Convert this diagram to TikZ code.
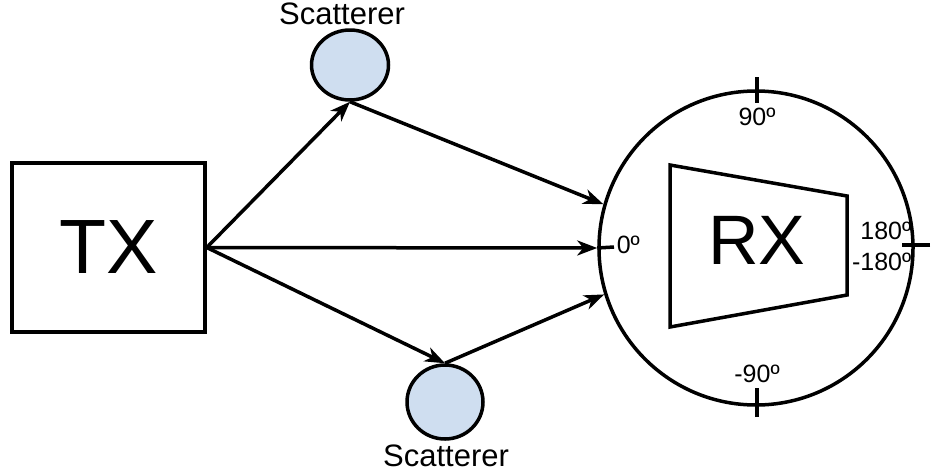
\documentclass[tikz,border=0pt]{standalone}
\usepackage{fontspec}
\setmainfont{Liberation Sans}
\usetikzlibrary{arrows.meta,shapes.geometric,positioning}
\definecolor{scatblue}{RGB}{207,222,240}

\begin{document}
\begin{tikzpicture}[x=1pt, y=-1pt, line width=3.5pt, >={Stealth[length=20pt,width=15pt,inset=6pt]},
                      box node/.style={rectangle,draw,minimum width=193pt,minimum height=169pt,font=\fontsize{77}{77}\selectfont},
                      scat node/.style={ellipse,draw,fill=scatblue,inner sep=0pt},
                      label node/.style={inner sep=0pt,font=\fontsize{31}{31}\selectfont},
                      angle node/.style={inner sep=0pt,font=\fontsize{25}{25}\selectfont}]

      \useasboundingbox (0,0) rectangle (936,472);

      \node[box node] (tx) at (108.5,247.5) {TX};
      \node[scat node,minimum width=77pt,minimum height=70pt] (s1) at (350,65) {};
      \node[scat node,minimum width=76pt,minimum height=74pt] (s2) at (445,402) {};
      \node[circle,draw,minimum size=314pt,inner sep=0pt] (rx) at (756,248) {};

      \node[label node,anchor=base] (l1) at (342,24) {Scatterer};
      \node[label node,anchor=base] (l2) at (446,466) {Scatterer};

      % receiver
      \draw (670,165) -- (847,196) -- (847,295) -- (670,327) -- cycle;
      \node[inner sep=0pt,font=\fontsize{70}{70}\selectfont] (rxt) at (757,240) {RX};

      % ticks
      \coordinate (t1) at (757,77);
      \coordinate (t2) at (757,417);
      \coordinate (t3) at (930,245);
      \coordinate (t4) at (614,247);
      \draw (t1) -- ++(0,26);
      \draw (t2) -- ++(0,-29);
      \draw (t3) -- ++(-28,0);
      \draw (t4) -- (rx.west);

      \node[angle node,anchor=base] (a1) at (757,125) {90º};
      \node[angle node,anchor=base] (a2) at (757,382) {-90º};
      \node[angle node,anchor=base west] (a3) at (615,253) {0º};
      \node[angle node,anchor=base east] (a4) at (913,239) {180º};
      \node[angle node,anchor=base east] (a5) at (913,270) {-180º};

      \draw[->] (tx.east) -- (s1.south);
      \draw[->] (tx.east) -- (s2.north);
      \draw[->] (tx.east) -- (rx.west);
      \draw[->] (s1.south) -- (rx.164.5);
      \draw[->] (s2.north) -- (rx.197.5);

\end{tikzpicture}
\end{document}
